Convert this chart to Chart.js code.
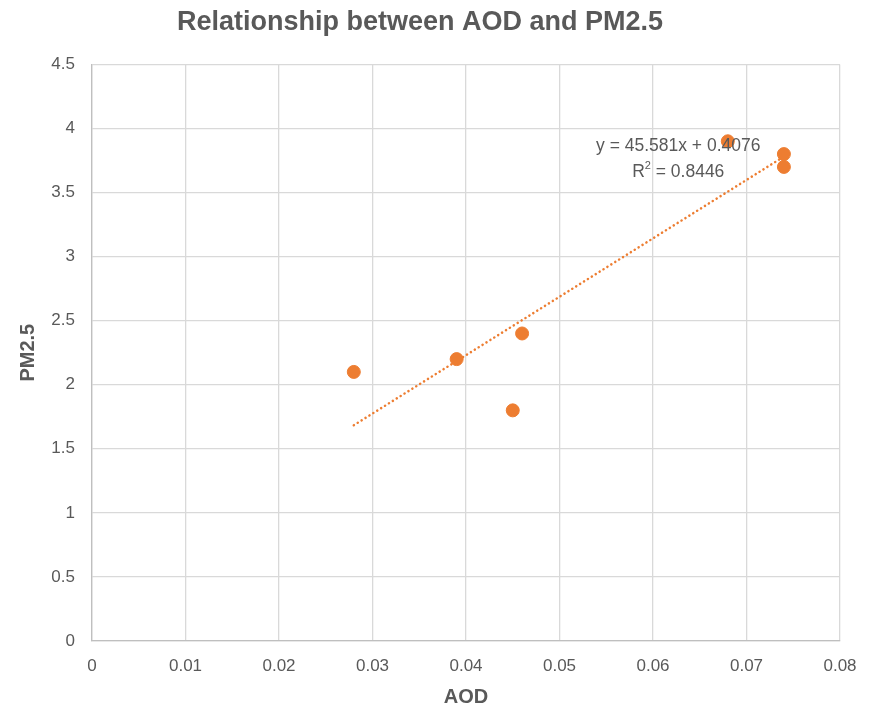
<!DOCTYPE html>
<html>
<head>
<meta charset="utf-8">
<script src="https://cdn.jsdelivr.net/npm/chart.js@4"></script>
<style>
  html, body { margin: 0; padding: 0; background: #ffffff; }
  #wrap { width: 879px; height: 709px; }
</style>
</head>
<body>
<div id="wrap"><canvas id="grafico"></canvas></div>
<script>
'use strict';

// Datos
const AOD = [0.028, 0.039, 0.045, 0.046, 0.068, 0.074, 0.074];
const PM25 = [2.1, 2.2, 1.8, 2.4, 3.9, 3.8, 3.7];

// Linea de tendencia (ecuacion mostrada en el grafico)
const PENDIENTE = 45.581;
const INTERCEPTO = 0.4076;
const R2 = 0.8446;
const TENDENCIA_X = [0.028, 0.074];

const COLOR_PUNTO = '#ED7D31';
const COLOR_TEXTO = '#595959';
const COLOR_REJILLA = '#d9d9d9';
const FUENTE = '"Liberation Sans", Arial, sans-serif';

const puntos = AOD.map((x, i) => ({ x: x, y: PM25[i] }));
const tendencia = TENDENCIA_X.map(x => ({ x: x, y: PENDIENTE * x + INTERCEPTO }));

// Etiqueta de la ecuacion junto a la tendencia
const etiquetaEcuacion = {
    id: 'etiquetaEcuacion',
    afterDatasetsDraw(chart) {
        const { ctx, scales } = chart;
        const cx = scales.x.getPixelForValue(0.0627);
        const y1 = scales.y.getPixelForValue(3.86);
        const y2 = scales.y.getPixelForValue(3.66);
        const grande = '17.5px ' + FUENTE;
        const chica = '11px ' + FUENTE;
        ctx.save();
        ctx.fillStyle = COLOR_TEXTO;
        ctx.font = grande;
        ctx.textAlign = 'center';
        ctx.textBaseline = 'middle';
        ctx.fillText('y = ' + PENDIENTE + 'x + ' + INTERCEPTO, cx, y1);
        const resto = ' = ' + R2;
        const wR = ctx.measureText('R').width;
        const wResto = ctx.measureText(resto).width;
        ctx.font = chica;
        const w2 = ctx.measureText('2').width;
        const x0 = cx - (wR + w2 + wResto) / 2;
        ctx.textAlign = 'left';
        ctx.fillText('2', x0 + wR, y2 - 6);
        ctx.font = grande;
        ctx.fillText('R', x0, y2);
        ctx.fillText(resto, x0 + wR + w2, y2);
        ctx.restore();
    }
};

new Chart(document.getElementById('grafico'), {
    type: 'scatter',
    data: {
        datasets: [{
            label: 'PM2.5',
            data: puntos,
            backgroundColor: COLOR_PUNTO,
            borderColor: COLOR_PUNTO,
            pointRadius: 6.5,
            pointHoverRadius: 6.5
        }, {
            type: 'line',
            label: 'Tendencia',
            data: tendencia,
            borderColor: COLOR_PUNTO,
            borderWidth: 2.5,
            borderDash: [0.1, 4.5],
            borderCapStyle: 'round',
            pointRadius: 0,
            fill: false
        }]
    },
    options: {
        responsive: true,
        maintainAspectRatio: false,
        animation: false,
        layout: { padding: { left: 0, right: 39, top: 0, bottom: 0 } },
        plugins: {
            legend: { display: false },
            tooltip: { enabled: false },
            title: {
                display: true,
                text: 'Relationship between AOD and PM2.5',
                color: COLOR_TEXTO,
                font: { size: 27, weight: 'bold', family: FUENTE },
                padding: { top: 6, bottom: 26 }
            }
        },
        scales: {
            x: {
                type: 'linear',
                min: 0,
                max: 0.08,
                ticks: {
                    stepSize: 0.01,
                    color: COLOR_TEXTO,
                    font: { size: 17, family: FUENTE },
                    padding: 15
                },
                grid: { color: COLOR_REJILLA, lineWidth: 1.3, drawTicks: false },
                border: { color: '#bfbfbf', width: 1.3 },
                title: {
                    display: true,
                    text: 'AOD',
                    color: COLOR_TEXTO,
                    font: { size: 20, weight: 'bold', family: FUENTE },
                    padding: { top: 2, bottom: 0 }
                },
                afterFit(escala) { escala.height = 68; }
            },
            y: {
                min: 0,
                max: 4.5,
                ticks: {
                    stepSize: 0.5,
                    color: COLOR_TEXTO,
                    font: { size: 17, family: FUENTE },
                    padding: 17,
                    callback: valor => String(Math.round(valor * 10) / 10)
                },
                grid: { color: COLOR_REJILLA, lineWidth: 1.3, drawTicks: false },
                border: { color: '#bfbfbf', width: 1.3 },
                title: {
                    display: true,
                    text: 'PM2.5',
                    color: COLOR_TEXTO,
                    font: { size: 20, weight: 'bold', family: FUENTE },
                    padding: { top: 16, bottom: 2 }
                },
                afterFit(escala) { escala.width = 92; }
            }
        }
    },
    plugins: [etiquetaEcuacion]
});
</script>
</body>
</html>
